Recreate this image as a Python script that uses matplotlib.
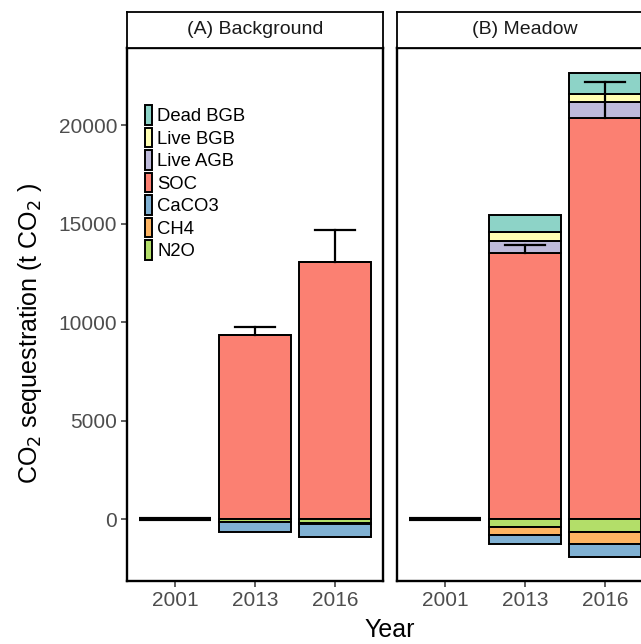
import numpy as np
import matplotlib
matplotlib.use("Agg")
import matplotlib.pyplot as plt
from matplotlib.patches import Patch

plt.rcParams["font.family"] = ["Liberation Sans", "DejaVu Sans"]

# 연도별 CO2 격리량 (t CO2)
years = ["2001", "2013", "2016"]
components = ["Dead BGB", "Live BGB", "Live AGB", "SOC", "CaCO3", "CH4", "N2O"]
colors = {
    "Dead BGB": "#8DD3C7", "Live BGB": "#FFFFB3", "Live AGB": "#BEBADA",
    "SOC": "#FB8072", "CaCO3": "#80B1D3", "CH4": "#FDB462", "N2O": "#B3DE69",
}

# (A) Background
soc_a = [0, 9340, 13050]
live_agb_a = [0, 0, 0]
live_bgb_a = [0, 0, 0]
dead_bgb_a = [0, 0, 0]
n2o_a = [0, -110, -170]
ch4_a = [0, -30, -90]
caco3_a = [0, -520, -650]
err_a = [0, 410, 1620]

# (B) Meadow
soc_b = [0, 13500, 20400]
live_agb_b = [0, 650, 770]
live_bgb_b = [0, 420, 400]
dead_bgb_b = [0, 860, 1070]
n2o_b = [0, -400, -660]
ch4_b = [0, -410, -610]
caco3_b = [0, -460, -660]
err_b = [0, 430, 1780]

panels = [
    ("(A) Background", {"SOC": soc_a, "Live AGB": live_agb_a, "Live BGB": live_bgb_a,
                        "Dead BGB": dead_bgb_a, "N2O": n2o_a, "CH4": ch4_a,
                        "CaCO3": caco3_a}, err_a),
    ("(B) Meadow", {"SOC": soc_b, "Live AGB": live_agb_b, "Live BGB": live_bgb_b,
                    "Dead BGB": dead_bgb_b, "N2O": n2o_b, "CH4": ch4_b,
                    "CaCO3": caco3_b}, err_b),
]

POS_ORDER = ["SOC", "Live AGB", "Live BGB", "Dead BGB"]
NEG_ORDER = ["N2O", "CH4", "CaCO3"]
W, H = 641, 644
BAR_W = 0.9
YLIM = (-3130, 23930)

fig = plt.figure(figsize=(W / 100, H / 100), dpi=100)

def px_box(x0, x1, y_top, y_bot):
    return [x0 / W, 1 - y_bot / H, (x1 - x0) / W, (y_bot - y_top) / H]

panel_x = [(127, 383), (397, 653)]
axes = []
for (title, data, err), (x0, x1) in zip(panels, panel_x):
    ax = fig.add_axes(px_box(x0, x1, 48, 581))
    x = np.arange(len(years))
    pos_base = np.zeros(len(years))
    for comp in POS_ORDER:
        v = np.array(data[comp], dtype=float)
        ax.bar(x, v, BAR_W, bottom=pos_base, color=colors[comp],
               edgecolor="black", linewidth=1.4, zorder=2)
        pos_base += v
    neg_base = np.zeros(len(years))
    for comp in NEG_ORDER:
        v = np.array(data[comp], dtype=float)
        ax.bar(x, v, BAR_W, bottom=neg_base, color=colors[comp],
               edgecolor="black", linewidth=1.4, zorder=2)
        neg_base += v
    # 2001년은 값이 0 → 굵은 선으로 표시
    ax.plot([x[0] - BAR_W / 2, x[0] + BAR_W / 2], [0, 0], color="black",
            lw=3.0, solid_capstyle="butt", zorder=3)

    # 오차 막대 (SOC 위쪽)
    soc = np.array(data["SOC"], dtype=float)
    for xi, s, e in zip(x, soc, err):
        if e <= 0:
            continue
        ax.plot([xi, xi], [s, s + e], color="black", lw=1.6, zorder=4)
        ax.plot([xi - 0.25, xi + 0.25], [s + e, s + e], color="black", lw=1.6, zorder=4)

    ax.set_xlim(-0.6, len(years) - 0.4)
    ax.set_ylim(*YLIM)
    ax.set_xticks(x)
    ax.set_xticklabels(years)
    ax.set_yticks([0, 5000, 10000, 15000, 20000])
    for sp in ax.spines.values():
        sp.set_linewidth(1.7)
        sp.set_color("black")
    ax.tick_params(axis="both", length=4, width=1.1, color="#333333",
                   labelcolor="#4D4D4D", labelsize=15, pad=3)
    if axes:
        ax.tick_params(axis="y", left=False, labelleft=False)

    # 패싯 제목 스트립
    sax = fig.add_axes(px_box(x0, x1, 12, 48))
    sax.set_xticks([]); sax.set_yticks([])
    for sp in sax.spines.values():
        sp.set_linewidth(1.3)
    sax.text(0.5, 0.5, title, ha="center", va="center", fontsize=14,
             color="#1A1A1A", transform=sax.transAxes)
    axes.append(ax)

handles = [Patch(facecolor=colors[c], edgecolor="black", linewidth=1.4) for c in components]
axes[0].legend(handles, components, loc="upper left", bbox_to_anchor=(0.072, 0.893),
               frameon=False, fontsize=13.3, handlelength=0.35, handleheight=1.25,
               handletextpad=0.3, labelspacing=0.14, borderpad=0, borderaxespad=0)

fig.text(30 / W, 1 - 333 / H, "CO$_2$ sequestration (t CO$_2$ )", rotation=90,
         ha="center", va="center", fontsize=18)
fig.text(390 / W, 1 - 630 / H, "Year", ha="center", va="center", fontsize=18)

fig.savefig("out.png", dpi=100)
